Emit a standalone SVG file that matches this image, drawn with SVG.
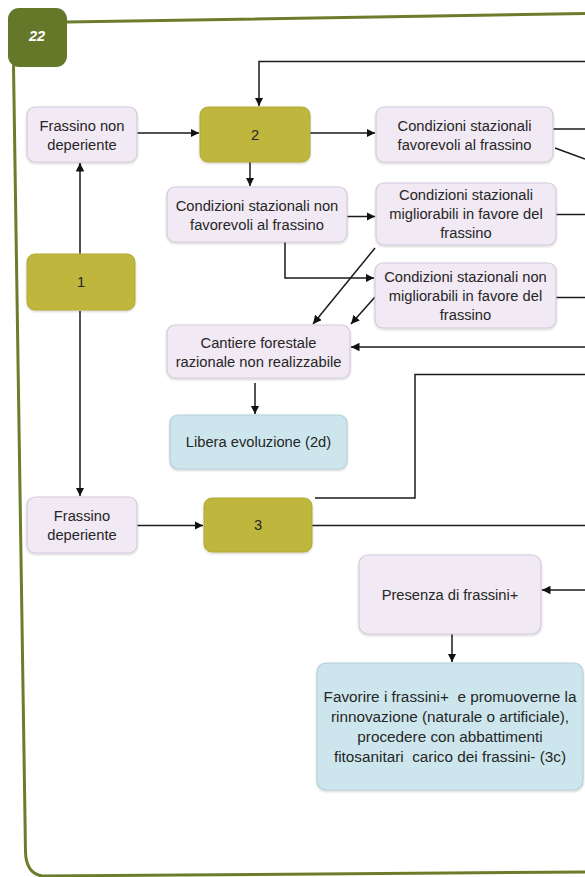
<svg xmlns="http://www.w3.org/2000/svg" width="585" height="877" viewBox="0 0 585 877">
<defs>
<marker id="ah" viewBox="0 0 10 10" refX="10" refY="5" markerWidth="8.5" markerHeight="8.5" markerUnits="userSpaceOnUse" orient="auto"><path d="M0,0 L10,5 L0,10 z" fill="#111"/></marker>
<filter id="sh" x="-5%" y="-5%" width="110%" height="120%"><feDropShadow dx="0" dy="1.2" stdDeviation="0.8" flood-color="#000" flood-opacity="0.18"/></filter>
</defs>
<style>
.lav{fill:#f1e9f3;stroke:#d6cadd;stroke-width:1.2;filter:url(#sh)}
.olv{fill:#bfb63c;stroke:#b3aa35;stroke-width:1;filter:url(#sh)}
.blu{fill:#cde6ee;stroke:#b3cfd9;stroke-width:1.2;filter:url(#sh)}
text{font-family:"Liberation Sans",Arial,sans-serif;font-size:14.7px;fill:#262626;text-anchor:middle}
.big{font-size:15.3px}
.cn{fill:none;stroke:#1a1a1a;stroke-width:1.5}
.cnm{fill:none;stroke:#1a1a1a;stroke-width:1.5;marker-end:url(#ah)}
.frame{fill:none;stroke:#6b7d2b;stroke-width:3;stroke-linecap:round}
</style>
<rect width="585" height="877" fill="#fff"/>
<g id="frame">
<path class="frame" d="M67,22 L585,13.5"/>
<path class="frame" d="M13.5,66 L25.5,852 Q26,873 42,876 L585,872"/>
<rect x="8" y="8" width="59" height="59" rx="11" fill="#65782a"/>
<text x="37" y="41" style="font-weight:bold;font-style:italic;fill:#fff;font-size:14.5px">22</text>
</g>
<g id="connectors">
<path class="cnm" d="M585,61.5 L259,61.5 L259,106"/>
<path class="cnm" d="M137,133 L199,133"/>
<path class="cnm" d="M310,133 L375,133"/>
<path class="cn" d="M553,129 L585,129"/>
<path class="cn" d="M555,148 L585,159"/>
<path class="cnm" d="M250,162 L250,186"/>
<path class="cnm" d="M347,216.5 L375,216.5"/>
<path class="cn" d="M556,214.5 L585,214.5"/>
<path class="cnm" d="M285,242 L285,278 L374,278"/>
<path class="cn" d="M556,297.5 L585,297.5"/>
<path class="cnm" d="M375,248 L313,324"/>
<path class="cnm" d="M375,297 L351,324"/>
<path class="cnm" d="M585,347 L351,347"/>
<path class="cn" d="M315,498 L415,498 L415,374.5 L585,374.5"/>
<path class="cnm" d="M255,383 L255,414"/>
<path class="cnm" d="M80,254 L80,163"/>
<path class="cnm" d="M80,311 L80,496"/>
<path class="cnm" d="M137,525.5 L203,525.5"/>
<path class="cn" d="M312,525.5 L585,525.5"/>
<path class="cnm" d="M585,590 L542,590"/>
<path class="cnm" d="M452,634 L452,662"/>
</g>
<g id="n_fnd"><rect class="lav" x="27" y="107" width="110" height="55" rx="8"/><text x="82" y="130.5">Frassino non</text><text x="82" y="149.5">deperiente</text></g>
<g id="n2"><rect class="olv" x="200" y="107" width="110" height="55" rx="8"/><text x="255" y="139.5">2</text></g>
<g id="n_fav"><rect class="lav" x="376" y="107" width="177" height="55" rx="8"/><text x="464.5" y="130.5">Condizioni stazionali</text><text x="464.5" y="149.5">favorevoli al frassino</text></g>
<g id="n_nonfav"><rect class="lav" x="167" y="187" width="180" height="55" rx="8"/><text x="257" y="210.5">Condizioni stazionali non</text><text x="257" y="229.5">favorevoli al frassino</text></g>
<g id="n_mig"><rect class="lav" x="376" y="183" width="180" height="62" rx="8"/><text x="466" y="200">Condizioni stazionali</text><text x="466" y="219">migliorabili in favore del</text><text x="466" y="238">frassino</text></g>
<g id="n_nonmig"><rect class="lav" x="375" y="263" width="181" height="65" rx="8"/><text x="465.5" y="281.5">Condizioni stazionali non</text><text x="465.5" y="300.5">migliorabili in favore del</text><text x="465.5" y="319.5">frassino</text></g>
<g id="n_cant"><rect class="lav" x="167" y="325" width="183" height="53" rx="8"/><text x="258.5" y="348">Cantiere forestale</text><text x="258.5" y="367">razionale non realizzabile</text></g>
<g id="n_lib"><rect class="blu" x="170" y="415" width="177" height="54" rx="8"/><text x="258.5" y="447">Libera evoluzione (2d)</text></g>
<g id="n1"><rect class="olv" x="27" y="254" width="108" height="56" rx="8"/><text x="81" y="287">1</text></g>
<g id="n_fd"><rect class="lav" x="27" y="497" width="110" height="56" rx="8"/><text x="82" y="521">Frassino</text><text x="82" y="540">deperiente</text></g>
<g id="n3"><rect class="olv" x="204" y="498" width="108" height="54" rx="8"/><text x="258" y="530">3</text></g>
<g id="n_pres"><rect class="lav" x="359" y="555" width="182" height="79" rx="9"/><text x="450" y="600">Presenza di frassini+</text></g>
<g id="n_fav2"><rect class="blu" x="317" y="663" width="266" height="127" rx="9"/><text class="big" x="450" y="702" xml:space="preserve">Favorire i frassini+  e promuoverne la</text><text class="big" x="450" y="722">rinnovazione (naturale o artificiale),</text><text class="big" x="450" y="742">procedere con abbattimenti</text><text class="big" x="450" y="762" xml:space="preserve">fitosanitari  carico dei frassini- (3c)</text></g>
</svg>
